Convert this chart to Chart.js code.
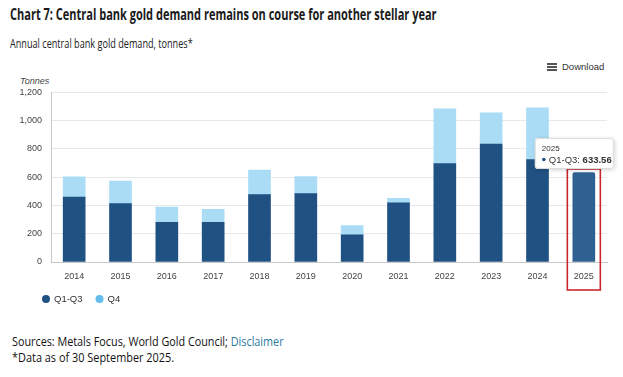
<!DOCTYPE html>
<html>
<head>
<meta charset="utf-8">
<script src="https://cdn.jsdelivr.net/npm/chart.js@4"></script>
<style>
  html, body { margin:0; padding:0; background:#fff; }
  body { width:623px; height:377px; position:relative; overflow:hidden; font-family:"Open Sans", sans-serif; }
  .t { position:absolute; white-space:nowrap; transform-origin:left center; color:#111; }
  #title { left:10px; top:3px; font-size:15.5px; font-weight:700; color:#1a1a1a; transform:scaleX(0.71); }
  #sub { left:10px; top:35px; font-size:12px; color:#222; transform:scaleX(0.76); }
  #dl { left:547px; top:61px; font-family:"Liberation Sans", Arial, sans-serif; font-size:9.5px; color:#333; }
  #dl .ic { display:inline-block; width:10px; height:8px; margin-right:5px; vertical-align:-1px;
            background:linear-gradient(#555 0 2px, transparent 2px 3px, #555 3px 5px, transparent 5px 6px, #555 6px 8px); }
  #tonnes { left:20px; top:76px; font-family:"Liberation Sans", Arial, sans-serif; font-size:9px; font-style:italic; color:#444; }
  #src { left:12px; top:333px; font-size:12px; color:#111; transform:scaleX(0.9); }
  #src a { color:#2b7aa0; text-decoration:none; }
  #note { left:12px; top:349px; font-size:12px; color:#111; transform:scaleX(0.91); }
  #wrap { position:absolute; left:0; top:78px; width:623px; height:237px; }
</style>
</head>
<body>
<div class="t" id="title">Chart 7: Central bank gold demand remains on course for another stellar year</div>
<div class="t" id="sub">Annual central bank gold demand, tonnes*</div>
<div class="t" id="dl"><span class="ic"></span>Download</div>
<div class="t" id="tonnes">Tonnes</div>
<div id="wrap"><canvas id="c"></canvas></div>
<div class="t" id="src">Sources: Metals Focus, World Gold Council; <a>Disclaimer</a></div>
<div class="t" id="note">*Data as of 30 September 2025.</div>
<script>
const years = ["2014","2015","2016","2017","2018","2019","2020","2021","2022","2023","2024","2025"];
const q1q3  = [460, 413, 281, 281, 477, 484, 193, 418, 696, 835, 724, 633.56];
const q4    = [142, 160, 108,  92, 174, 121,  64,  32, 387, 220, 366, null];
const seriesNames = ["Q1-Q3", "Q4"];
const yTicks = [0, 200, 400, 600, 800, 1000, 1200];

const DARK = "#1f5183", DARK_HOVER = "#2e6192", LIGHT = "#aadcf6", LIGHT_LEGEND = "#62bdeb";
const hl = years.length - 1;

const overlay = {
  id: "overlay",
  afterDraw(chart) {
    const ctx = chart.ctx;
    const bar = chart.getDatasetMeta(0).data[hl];
    const ys = chart.scales.y;
    ctx.save();
    // red highlight box
    ctx.strokeStyle = "#c8262d";
    ctx.lineWidth = 1.6;
    const bx = bar.x - 16.5, by = bar.y - 3.5;
    ctx.strokeRect(bx, by, 33, (ys.bottom + 28) - by);
    // tooltip
    const tx = bar.x - 49, ty = bar.y - 34.5, tw = 79, th = 31;
    ctx.shadowColor = "rgba(0,0,0,0.18)";
    ctx.shadowBlur = 4; ctx.shadowOffsetX = 1; ctx.shadowOffsetY = 1;
    ctx.fillStyle = "#fff";
    ctx.beginPath(); ctx.roundRect(tx, ty, tw, th, 3); ctx.fill();
    ctx.shadowColor = "transparent";
    ctx.strokeStyle = "#dcdcdc"; ctx.lineWidth = 1;
    ctx.beginPath(); ctx.roundRect(tx + 0.5, ty + 0.5, tw - 1, th - 1, 3); ctx.stroke();
    ctx.fillStyle = "#333";
    ctx.textBaseline = "middle"; ctx.textAlign = "left";
    ctx.font = "8px 'Liberation Sans', Arial, sans-serif";
    ctx.fillText(years[hl], tx + 7, ty + 11);
    ctx.fillStyle = DARK;
    ctx.beginPath(); ctx.arc(tx + 9, ty + 21.5, 1.8, 0, Math.PI * 2); ctx.fill();
    ctx.fillStyle = "#333";
    ctx.font = "9.5px 'Liberation Sans', Arial, sans-serif";
    const lab = seriesNames[0] + ": ";
    ctx.fillText(lab, tx + 14, ty + 22);
    const w = ctx.measureText(lab).width;
    ctx.font = "bold 9.5px 'Liberation Sans', Arial, sans-serif";
    ctx.fillText(q1q3[hl].toFixed(2), tx + 14 + w, ty + 22);
    // legend
    ctx.font = "9.5px 'Liberation Sans', Arial, sans-serif";
    const ly = ys.bottom + 37;
    let lx = 46;
    const legendCols = [DARK, LIGHT_LEGEND];
    seriesNames.forEach((n, i) => {
      ctx.fillStyle = legendCols[i];
      ctx.beginPath(); ctx.arc(lx, ly, 4, 0, Math.PI * 2); ctx.fill();
      ctx.fillStyle = "#333";
      ctx.fillText(n, lx + 8, ly + 0.5);
      lx += 8 + ctx.measureText(n).width + 17;
    });
    ctx.restore();
  }
};

new Chart(document.getElementById("c"), {
  type: "bar",
  data: {
    labels: years,
    datasets: [
      { label: seriesNames[0], data: q1q3,
        backgroundColor: years.map((_, i) => i === hl ? DARK_HOVER : DARK),
        borderRadius: ctx => ctx.dataIndex === hl ? 2 : 0, borderSkipped: "bottom" },
      { label: seriesNames[1], data: q4, backgroundColor: LIGHT }
    ]
  },
  options: {
    responsive: true, maintainAspectRatio: false, animation: false,
    layout: { padding: { top: 12, right: 16, left: 0, bottom: 0 } },
    datasets: { bar: { barThickness: 22 } },
    plugins: { legend: { display: false }, tooltip: { enabled: false } },
    scales: {
      x: { stacked: true,
        grid: { display: false },
        border: { color: "#c8c8c8" },
        ticks: { color: "#444", font: { family: "'Liberation Sans', Arial, sans-serif", size: 9 }, padding: 1 },
        afterFit(s) { s.height = 53; } },
      y: { stacked: true, min: 0, max: 1200,
        afterBuildTicks(s) { s.ticks = yTicks.map(v => ({ value: v })); },
        grid: { color: "#e8e8e8", drawTicks: false },
        border: { color: "#c8c8c8" },
        ticks: { color: "#444", font: { family: "'Liberation Sans', Arial, sans-serif", size: 9 }, padding: 9,
          callback: v => v.toLocaleString("en-US") },
        afterFit(s) { s.width = 51; } }
    }
  },
  plugins: [overlay]
});
</script>
</body>
</html>
